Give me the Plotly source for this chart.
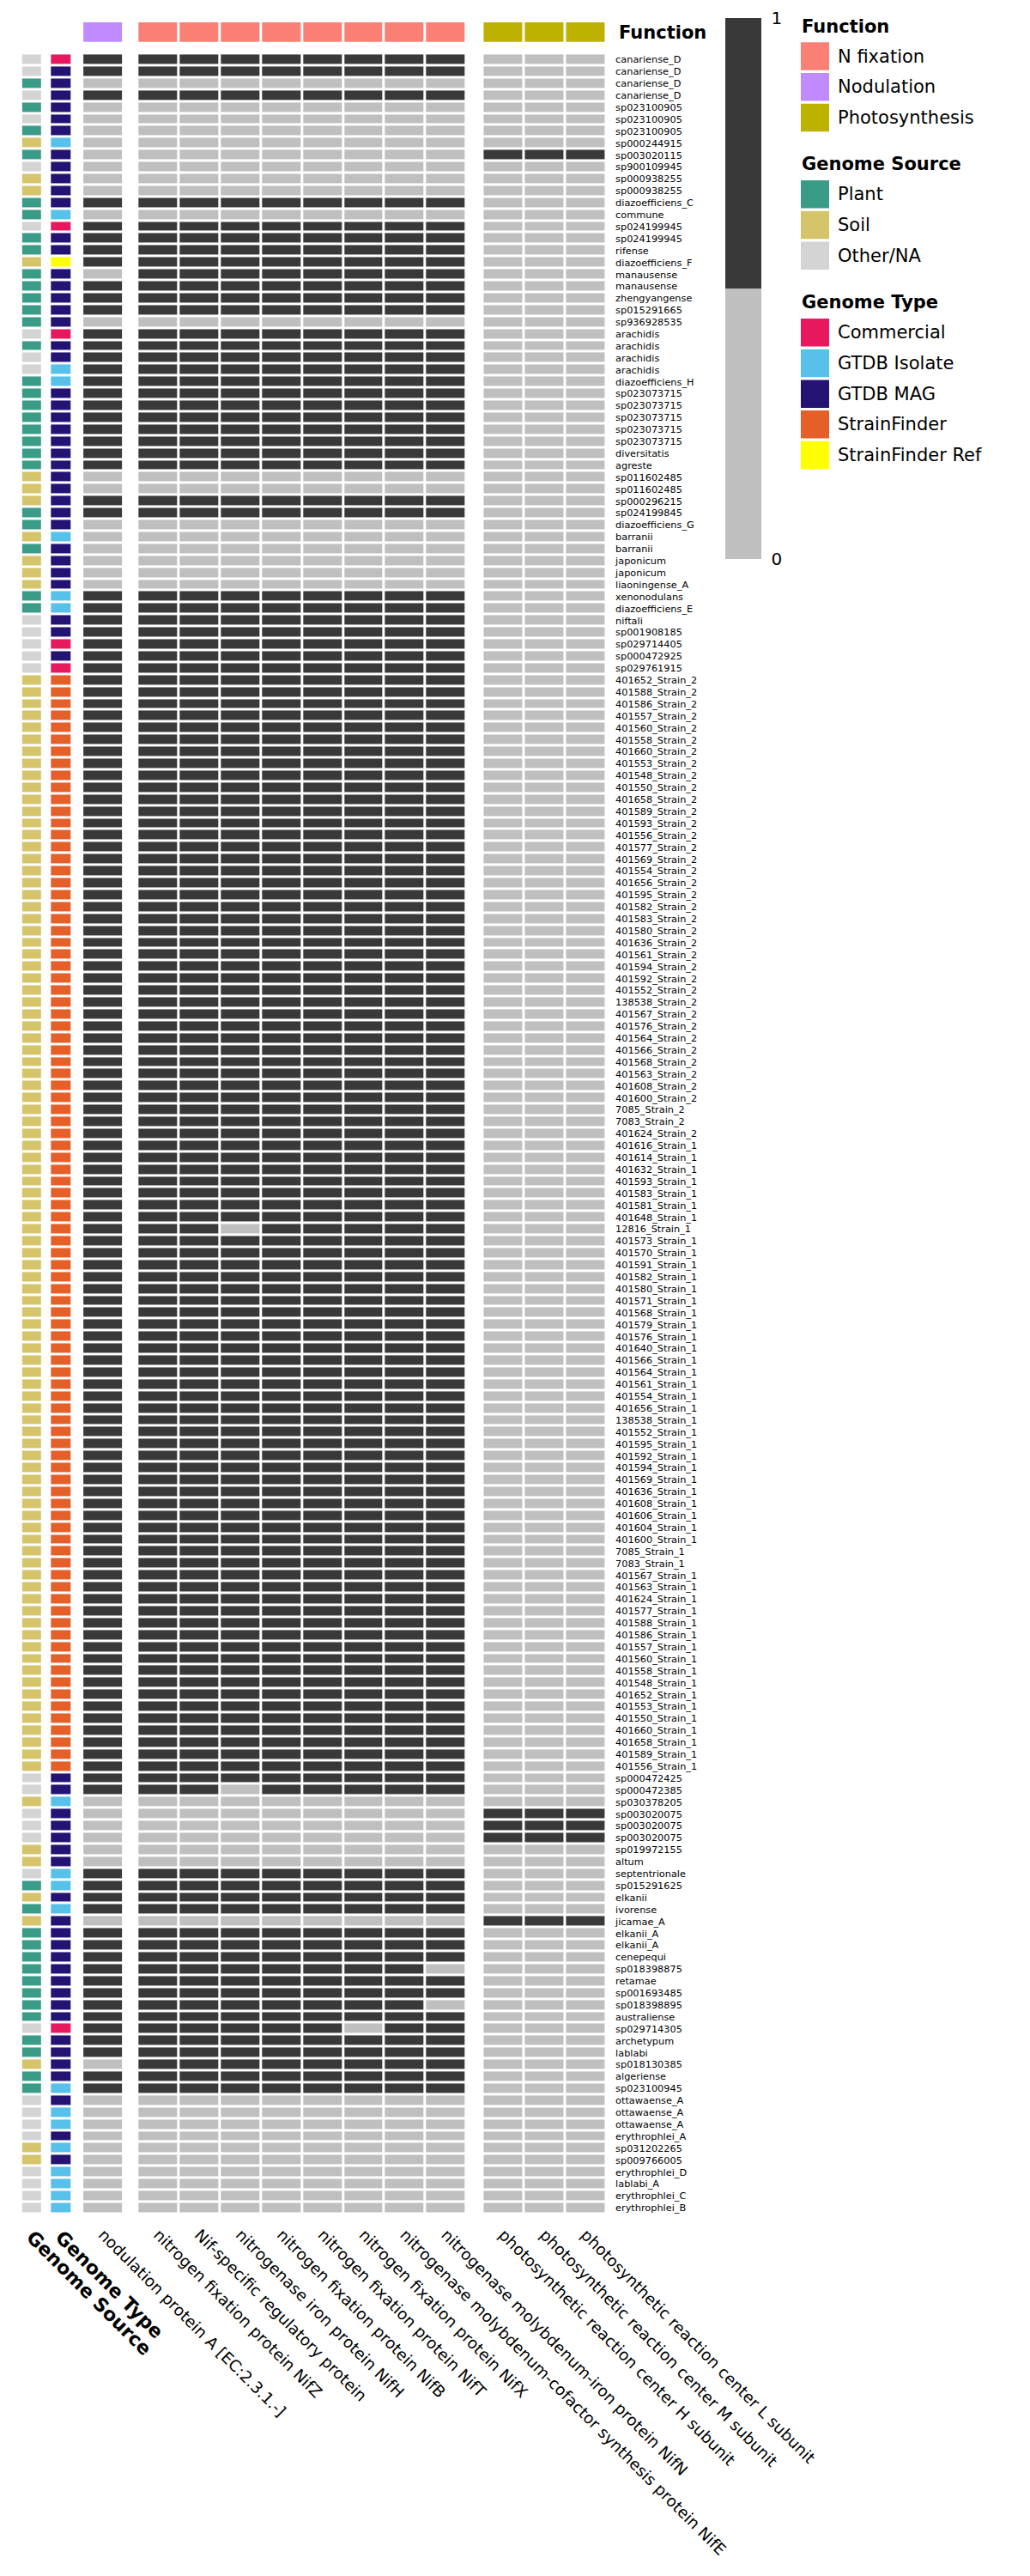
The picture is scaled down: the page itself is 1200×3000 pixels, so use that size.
import plotly.graph_objects as go

W, H = 1200, 3000


def fx(x):
    return x / W


def fy(y):
    return 1 - y / H


def bits(s):
    return [int(c) for c in s if not c.isspace()]


def codes(s):
    return [c for c in s if not c.isspace()]


# ---------------- data ----------------
strain2_ids = ["401652", "401588", "401586", "401557", "401560", "401558", "401660", "401553", "401548",
               "401550", "401658", "401589", "401593", "401556", "401577", "401569", "401554", "401656",
               "401595", "401582", "401583", "401580", "401636", "401561", "401594", "401592", "401552",
               "138538", "401567", "401576", "401564", "401566", "401568", "401563", "401608", "401600",
               "7085", "7083", "401624"]
strain1_ids = ["401616", "401614", "401632", "401593", "401583", "401581", "401648", "12816", "401573",
               "401570", "401591", "401582", "401580", "401571", "401568", "401579", "401576", "401640",
               "401566", "401564", "401561", "401554", "401656", "138538", "401552", "401595", "401592",
               "401594", "401569", "401636", "401608", "401606", "401604", "401600", "7085", "7083",
               "401567", "401563", "401624", "401577", "401588", "401586", "401557", "401560", "401558",
               "401548", "401652", "401553", "401550", "401660", "401658", "401589", "401556"]

labels_top = ["canariense_D", "canariense_D", "canariense_D", "canariense_D", "sp023100905", "sp023100905",
              "sp023100905", "sp000244915", "sp003020115", "sp900109945", "sp000938255", "sp000938255",
              "diazoefficiens_C", "commune", "sp024199945", "sp024199945", "rifense", "diazoefficiens_F",
              "manausense", "manausense", "zhengyangense", "sp015291665", "sp936928535", "arachidis",
              "arachidis", "arachidis", "arachidis", "diazoefficiens_H", "sp023073715", "sp023073715",
              "sp023073715", "sp023073715", "sp023073715", "diversitatis", "agreste", "sp011602485",
              "sp011602485", "sp000296215", "sp024199845", "diazoefficiens_G", "barranii", "barranii",
              "japonicum", "japonicum", "liaoningense_A", "xenonodulans", "diazoefficiens_E", "niftali",
              "sp001908185", "sp029714405", "sp000472925", "sp029761915"]
labels_bottom = ["sp000472425", "sp000472385", "sp030378205", "sp003020075", "sp003020075", "sp003020075",
                 "sp019972155", "altum", "septentrionale", "sp015291625", "elkanii", "ivorense", "jicamae_A",
                 "elkanii_A", "elkanii_A", "cenepequi", "sp018398875", "retamae", "sp001693485",
                 "sp018398895", "australiense", "sp029714305", "archetypum", "lablabi", "sp018130385",
                 "algeriense", "sp023100945", "ottawaense_A", "ottawaense_A", "ottawaense_A",
                 "erythrophlei_A", "sp031202265", "sp009766005", "erythrophlei_D", "lablabi_A",
                 "erythrophlei_C", "erythrophlei_B"]
row_labels = (labels_top + [s + "_Strain_2" for s in strain2_ids]
              + [s + "_Strain_1" for s in strain1_ids] + labels_bottom)

# P = Plant, S = Soil, O = Other/NA  (rows in groups of 10)
genome_source = codes("""
OOPOPOPSPO SSPPOPPSPP PPPOPOOPPP PPPPPSSSPP SPSSSPPOOO OOSSSSSSSS
SSSSSSSSSS SSSSSSSSSS SSSSSSSSSS SSSSSSSSSS SSSSSSSSSS SSSSSSSSSS SSSSSSSSSS SSSSSSSSSS
SSSSOOSOOO SSOPSPSPPP PPPPPOPPSP POOOOSSOOO O""")
# C = Commercial, I = GTDB Isolate, M = GTDB MAG, F = StrainFinder, R = StrainFinder Ref
genome_type = codes("""
CMMMMMMIMM MMMICMMRMM MMMCMMIIMM MMMMMMMMMM IMMMMIIMMC MCFFFFFFFF
FFFFFFFFFF FFFFFFFFFF FFFFFFFFFF FFFFFFFFFF FFFFFFFFFF FFFFFFFFFF FFFFFFFFFF FFFFFFFFFF
FFFFMMIMMM MMIIMIMMMM MMMMMCMMMM IMIIMIMIII I""")

source_names = ["Plant", "Soil", "Other/NA"]
source_codes = ["P", "S", "O"]
source_colors = ["#3A9C87", "#D6C46A", "#D4D4D4"]
type_names = ["Commercial", "GTDB Isolate", "GTDB MAG", "StrainFinder", "StrainFinder Ref"]
type_codes = ["C", "I", "M", "F", "R"]
type_colors = ["#E8185F", "#57C1E9", "#241372", "#E56029", "#FFFF00"]
function_names = ["N fixation", "Nodulation", "Photosynthesis"]
function_colors = ["#FA7F74", "#BF8BFF", "#BDB200"]

nod_genes = ["nodulation protein A [EC:2.3.1.-]"]
nfix_genes = ["nitrogen fixation protein NifZ", "Nif-specific regulatory protein",
              "nitrogenase iron protein NifH", "nitrogen fixation protein NifB",
              "nitrogen fixation protein NifT", "nitrogen fixation protein NifX",
              "nitrogenase molybdenum-cofactor synthesis protein NifE",
              "nitrogenase molybdenum-iron protein NifN"]
photo_genes = ["photosynthetic reaction center H subunit", "photosynthetic reaction center M subunit",
               "photosynthetic reaction center L subunit"]

# presence (1) / absence (0), rows in groups of 10
nodA = bits("""
1101000000 0010111101 1101111111 1111100110 0000011111 1111111111
1111111111 1111111111 1111111111 1111111111 1111111111 1111111111 1111111111 1111111111
1111110000 0011110111 1111111101 1000000000 0""")
nifZ = bits("""
1101000000 0010111111 1101111111 1111100110 0000011111 1111111111
1111111111 1111111111 1111111111 1111111111 1111111111 1111111111 1111111111 1111111111
1111110000 0011110111 1111111111 1000000000 0""")
nif_reg = bits("""
1101000000 0010111111 1101111111 1111100110 0000011111 1111111111
1111111111 1111111111 1111111111 1111111111 1111111111 1111111111 1111111111 1111111111
1111110000 0011110111 1111111111 1000000000 0""")
nifH = bits("""
1101000000 0010111111 1101111111 1111100110 0000011111 1111111111
1111111111 1111111111 1111111111 1111111101 1111111111 1111111111 1111111111 1111111111
1111100000 0011110111 1111111111 1000000000 0""")
nifB = bits("""
1101000000 0010111111 1101111111 1111100110 0000011111 1111111111
1111111111 1111111111 1111111111 1111111111 1111111111 1111111111 1111111111 1111111111
1111110000 0011110111 1111111111 1000000000 0""")
nifT = bits("""
1101000000 0010111111 1101111111 1111100110 0000011111 1111111111
1111111111 1111111111 1111111111 1111111111 1111111111 1111111111 1111111111 1111111111
1111110000 0011110111 1111111111 1000000000 0""")
nifX = bits("""
1101000000 0010111111 1101111111 1111100110 0000011111 1111111111
1111111111 1111111111 1111111111 1111111111 1111111111 1111111111 1111111111 1111111111
1111110000 0011110111 1111101111 1000000000 0""")
nifE = bits("""
1101000000 0010111111 1101111111 1111100110 0000011111 1111111111
1111111111 1111111111 1111111111 1111111111 1111111111 1111111111 1111111111 1111111111
1111110000 0011110111 1111111111 1000000000 0""")
nifN = bits("""
1101000000 0010111111 1101111111 1111100110 0000011111 1111111111
1111111111 1111111111 1111111111 1111111111 1111111111 1111111111 1111111111 1111111111
1111110000 0011110111 0110111111 1000000000 0""")
pufH = bits("""
0000000010 0000000000 0000000000 0000000000 0000000000 0000000000
0000000000 0000000000 0000000000 0000000000 0000000000 0000000000 0000000000 0000000000
0000000111 0000001000 0000000000 0000000000 0""")
pufM = bits("""
0000000010 0000000000 0000000000 0000000000 0000000000 0000000000
0000000000 0000000000 0000000000 0000000000 0000000000 0000000000 0000000000 0000000000
0000000111 0000001000 0000000000 0000000000 0""")
pufL = bits("""
0000000010 0000000000 0000000000 0000000000 0000000000 0000000000
0000000000 0000000000 0000000000 0000000000 0000000000 0000000000 0000000000 0000000000
0000000111 0000001000 0000000000 0000000000 0""")

N = len(row_labels)
for arr in [genome_source, genome_type, nodA, nifZ, nif_reg, nifH, nifB, nifT, nifX, nifN, nifE,
            pufH, pufM, pufL]:
    assert len(arr) == N, (len(arr), N)

nod_cols = [nodA]
nfix_cols = [nifZ, nif_reg, nifH, nifB, nifT, nifX, nifE, nifN]
photo_cols = [pufH, pufM, pufL]

# ---------------- style / layout constants ----------------
FONT = "DejaVu Sans, Liberation Sans, Arial, sans-serif"
DARK = "#393939"
LIGHT = "#BFBFBF"
GAP = 3

ROW_TOP, ROW_BOTTOM = 62.4, 2578.2
FUNC_TOP, FUNC_BOTTOM = 26.0, 48.7
blocks = {
    "x": (24.8, 49.8),    # genome source
    "x2": (58.3, 83.8),   # genome type
    "x3": (96.1, 144.0),  # nodulation
    "x4": (160.3, 543.5), # N fixation
    "x5": (562.4, 706.1), # photosynthesis
}


def step_scale(colors):
    n = len(colors)
    sc = []
    for i, c in enumerate(colors):
        lo = 0 if i == 0 else (i - 0.5) / (n - 1)
        hi = 1 if i == n - 1 else (i + 0.5) / (n - 1)
        sc += [[lo, c], [hi, c]]
    return sc


binary_scale = [[0, LIGHT], [0.5, LIGHT], [0.5, DARK], [1, DARK]]
rows = list(range(N))

fig = go.Figure()

# annotation columns
fig.add_trace(go.Heatmap(
    z=[[source_codes.index(c)] for c in genome_source], x=[0], y=rows,
    colorscale=step_scale(source_colors), zmin=0, zmax=len(source_colors) - 1,
    showscale=False, xgap=GAP, ygap=GAP, xaxis="x", yaxis="y", hoverinfo="skip"))
fig.add_trace(go.Heatmap(
    z=[[type_codes.index(c)] for c in genome_type], x=[0], y=rows,
    colorscale=step_scale(type_colors), zmin=0, zmax=len(type_colors) - 1,
    showscale=False, xgap=GAP, ygap=GAP, xaxis="x2", yaxis="y", hoverinfo="skip"))

# gene presence blocks
for cols, ax, show in [(nod_cols, "x3", False), (nfix_cols, "x4", True), (photo_cols, "x5", False)]:
    z = [[col[i] for col in cols] for i in rows]
    fig.add_trace(go.Heatmap(
        z=z, x=list(range(len(cols))), y=rows, colorscale=binary_scale, zmin=0, zmax=1,
        xgap=GAP, ygap=GAP, xaxis=ax, yaxis="y", hoverinfo="skip",
        showscale=show,
        colorbar=dict(x=fx(845), xanchor="left", xpad=0, thickness=42, thicknessmode="pixels",
                      lenmode="pixels", len=630, y=fy(21), yanchor="top", ypad=0,
                      tickvals=[0, 1], ticktext=["0", "1"], ticks="outside", ticklen=8,
                      tickcolor="rgba(0,0,0,0)", outlinewidth=0,
                      tickfont=dict(family=FONT, size=20, color="#000")) if show else None))

# function bar
for genes_fn, ax in [(["Nodulation"], "x3"), (["N fixation"] * 8, "x4"), (["Photosynthesis"] * 3, "x5")]:
    fig.add_trace(go.Heatmap(
        z=[[function_names.index(f) for f in genes_fn]], x=list(range(len(genes_fn))), y=[0],
        colorscale=step_scale(function_colors), zmin=0, zmax=2, showscale=False,
        xgap=GAP, ygap=0, xaxis=ax, yaxis="y2", hoverinfo="skip"))

layout = dict(
    width=W, height=H, margin=dict(l=0, r=0, t=0, b=0, pad=0, autoexpand=False),
    paper_bgcolor="white", plot_bgcolor="white",
    font=dict(family=FONT, color="#000"),
    showlegend=False,
)

col_names = {"x": ["Genome Source"], "x2": ["Genome Type"], "x3": nod_genes, "x4": nfix_genes,
             "x5": photo_genes}
for ax, (a, b) in blocks.items():
    key = "xaxis" if ax == "x" else "xaxis" + ax[1:]
    bold = ax in ("x", "x2")
    layout[key] = dict(
        domain=[fx(a), fx(b)], anchor="y", range=[-0.5, len(col_names[ax]) - 0.5],
        tickmode="array", tickvals=list(range(len(col_names[ax]))), ticktext=col_names[ax],
        tickangle=45, ticks="", showgrid=False, zeroline=False, showline=False,
        ticklabelstandoff=9, automargin=False,
        tickfont=dict(family=FONT, size=22 if bold else 18.5, color="#000",
                      weight="bold" if bold else "normal"),
    )

layout["yaxis"] = dict(
    domain=[fy(ROW_BOTTOM), fy(ROW_TOP)], range=[N - 0.5, -0.5], anchor="x5", side="right",
    tickmode="array", tickvals=rows, ticktext=row_labels, ticks="", showgrid=False,
    zeroline=False, showline=False, ticklabelstandoff=10, automargin=False,
    tickfont=dict(family=FONT, size=11.3, color="#000"),
)
layout["yaxis2"] = dict(domain=[fy(FUNC_BOTTOM), fy(FUNC_TOP)], range=[-0.5, 0.5], anchor="x3",
                        visible=False)

annotations = [dict(x=fx(719), y=fy(38), xref="paper", yref="paper", xanchor="left",
                    yanchor="middle", text="<b>Function</b>", showarrow=False,
                    font=dict(family=FONT, size=21, color="#000"))]
shapes = []

legend_groups = [
    ("Function", function_names, function_colors, 31.3, 49.3),
    ("Genome Source", source_names, source_colors, 191, 210),
    ("Genome Type", type_names, type_colors, 352, 371),
]
KEY_X0, KEY_X1, KEY_H, KEY_PITCH = 933, 966, 32.5, 35.7
for title, names, colors, ty, ky0 in legend_groups:
    annotations.append(dict(x=fx(KEY_X0 - 1), y=fy(ty), xref="paper", yref="paper", xanchor="left",
                            yanchor="middle", text="<b>%s</b>" % title, showarrow=False,
                            font=dict(family=FONT, size=21, color="#000")))
    for k, (nm, c) in enumerate(zip(names, colors)):
        y0 = ky0 + k * KEY_PITCH
        shapes.append(dict(type="rect", xref="paper", yref="paper", x0=fx(KEY_X0), x1=fx(KEY_X1),
                           y0=fy(y0), y1=fy(y0 + KEY_H), fillcolor=c, line=dict(width=0)))
        annotations.append(dict(x=fx(974), y=fy(y0 + KEY_H / 2), xref="paper", yref="paper",
                                xanchor="left", yanchor="middle", text=nm, showarrow=False,
                                font=dict(family=FONT, size=21, color="#000")))

layout["annotations"] = annotations
layout["shapes"] = shapes
fig.update_layout(**layout)

fig.write_html("out.html")
